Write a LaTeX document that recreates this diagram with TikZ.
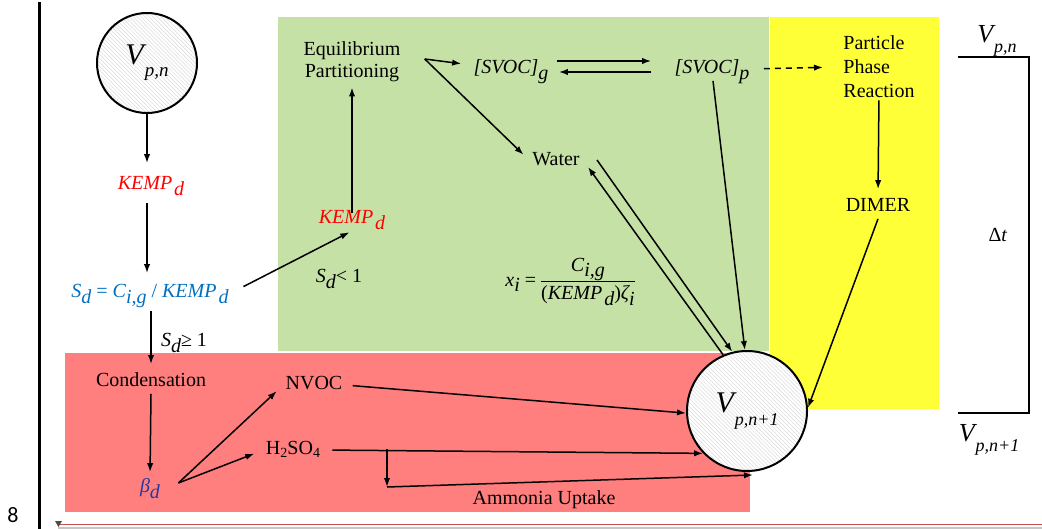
\documentclass[tikz,border=0pt]{standalone}
\usepackage{fontspec}
\setmainfont{Liberation Serif}
\newfontfamily\numfont{Carlito}
\usetikzlibrary{arrows.meta,patterns.meta,calc}
\definecolor{lgreen}{RGB}{198,225,166}
\definecolor{lyellow}{RGB}{255,255,56}
\definecolor{lred}{RGB}{255,127,127}
\definecolor{sdblue}{RGB}{0,112,192}
\definecolor{bdblue}{RGB}{40,55,160}
\definecolor{kred}{RGB}{255,0,0}
\definecolor{pagered}{RGB}{200,80,80}
\newcommand{\lsub}[1]{\raisebox{-0.6ex}{#1}}
\newcommand{\vsub}[2]{\raisebox{-0.9ex}{\fontsize{#1}{#1}\selectfont #2}}
\newcommand{\kemp}{\textit{KEMP\kern1pt\lsub{d}}}
\tikzset{
  txt/.style={inner sep=1pt, text height=7pt, text depth=2.5pt, font=\fontsize{10}{11.5}\selectfont},
  mtxt/.style={inner sep=1pt},
  arr/.style={-{Latex[length=4.5pt,width=3.2pt]}, line width=0.75pt},
  bigc/.style={circle, draw, line width=1pt, inner sep=0pt, preaction={fill=white},
    pattern={Lines[angle=-45,distance=1.4pt,line width=0.25pt]}, pattern color=gray!28},
}
\begin{document}
\begin{tikzpicture}[x=0.5pt,y=-0.5pt]
\useasboundingbox (0,0) rectangle (1042,529);
% coloured panels
\fill[lgreen] (278,17) rectangle (769,351);
\fill[lyellow] (770,17) rectangle (939,409);
\fill[lred] (65,353) rectangle (750,512);
% page marks
\draw[line width=1.5pt] (39,2) -- (39,529);
\node[inner sep=0pt, font=\numfont\fontsize{11}{11}\selectfont] (pg) at (13,515) {8};
\draw[line width=0.4pt, pagered] (58,524.5) -- (1042,524.5);
\draw[line width=1pt, gray!45] (58,527.5) -- (1042,527.5);
\fill[gray!60!black] (55,521) -- (62,521) -- (58.5,527) -- cycle;

% nodes
\node[bigc, minimum size=50pt] (c1) at (147,63)
  {\fontsize{15}{15}\selectfont\textit{V\kern0.5pt\vsub{9.5}{p,n}}};
\node[txt, text=kred] (k1) at (151,185) {\kemp};
\node[txt, text=sdblue] (sd) at (150,293) {\textit{S\lsub{d}} = \textit{C\lsub{i,g}} / \kemp};
\node[txt] (cond) at (151,382) {Condensation};
\node[txt, text=bdblue] (beta) at (150,488) {\textit{β\lsub{d}}};
\node[txt] (sdge) at (184,342) {\textit{S\lsub{d}}≥ 1};
\node[txt, text=kred] (k2) at (352,219) {\kemp};
\node[txt] (sdlt) at (339,278) {\textit{S\lsub{d}}< 1};
\node[mtxt, align=center, font=\fontsize{10}{11}\selectfont] (eq) at (352,62) {Equilibrium\\Partitioning};
\node[txt] (svg) at (511,69) {\textit{[SVOC]\lsub{g}}};
\node[txt] (svp) at (712,69) {\textit{[SVOC]\lsub{p}}};
\node[mtxt, align=left, anchor=west, font=\fontsize{10}{12}\selectfont] (ppr) at (841,67) {Particle\\Phase\\Reaction};
\node[txt] (dimer) at (878,207) {DIMER};
\node[txt] (water) at (556,161) {Water};
\node[mtxt, font=\fontsize{10}{11.5}\selectfont] (xi) at (570,281)
  {\textit{x\lsub{i}} = \begin{tabular}{@{}c@{}}\textit{C\lsub{i,g}}\\[1pt]\hline\rule{0pt}{9pt}(\textit{KEMP\kern1pt\lsub{d}})\textit{ζ\lsub{i}}\end{tabular}};
\node[txt] (nvoc) at (314,385) {NVOC};
\node[txt] (h2) at (293,450) {H\raisebox{-0.3ex}{\fontsize{7}{7}\selectfont 2}SO\raisebox{-0.3ex}{\fontsize{7}{7}\selectfont 4}};
\node[txt] (amm) at (544,500) {Ammonia Uptake};
\node[bigc, minimum size=60pt] (c2) at (747,411)
  {\fontsize{15}{15}\selectfont\textit{V\kern0.5pt\vsub{9}{p,n+1}}};
% right bracket labels
\node[mtxt, font=\fontsize{13}{13}\selectfont] (vtop) at (997,41) {\textit{V\kern0.5pt\vsub{9}{p,n}}};
\node[mtxt, font=\fontsize{13}{13}\selectfont] (vbot) at (989,440) {\textit{V\kern0.5pt\vsub{9}{p,n+1}}};
\node[txt] (dt) at (998,237) {Δ\textit{t}};
\coordinate (bt1) at (958,57);
\coordinate (bt2) at (1029,57);
\coordinate (bb2) at (1029,413);
\coordinate (bb1) at (958,413);
\draw[line width=1pt] (bt1) -- (bt2) -- (bb2) -- (bb1);

% connectors
\draw[arr, shorten >=5pt] (c1.south) -- (c1.south |- k1.north);
\draw[arr, shorten <=3pt, shorten >=4pt] (c1.south |- k1.south) -- (c1.south |- sd.north);
\draw[arr, shorten <=3pt, shorten >=3pt] (cond.north |- sd.south) -- (cond.north);
\draw[arr, shorten >=2pt] (cond.south) -- (beta.north);
\coordinate (bo) at ($(beta.east)+(16,-5)$);
\draw[arr, shorten >=4.5pt] (bo) -- (nvoc.west);
\draw[arr, shorten >=5pt] (bo) -- (h2.west);
\draw[arr, shorten <=4pt] (nvoc.east) -- (c2.182);
\draw[arr, shorten <=5pt] (h2.east) -- (c2.224);
\coordinate (aj) at (387,449);
\coordinate (ac) at (387,487);
\draw[arr] (aj) -- (ac);
\draw[arr] (ac) -- ([xshift=3pt,yshift=-1.5pt]c2.south);
\draw[arr, shorten <=7pt, shorten >=1.5pt] (sd.east) -- (k2.south);
\draw[arr, shorten <=-3pt, shorten >=1.5pt] (k2.north) -- (eq.south);
\coordinate (eqo) at ($(eq.east)+(22,-3)$);
\draw[arr, shorten >=5pt] (eqo) -- ([yshift=2pt]svg.west);
\draw[arr, shorten >=4.5pt] (eqo) -- (water.west);
\draw[arr, shorten <=3pt, shorten >=10.5pt] ([yshift=4pt]svg.east) -- ([yshift=4pt]svp.west);
\draw[arr, shorten <=10.5pt, shorten >=4pt] ([yshift=-1.5pt]svp.west) -- ([yshift=-1.5pt]svg.east);
\draw[arr, dash pattern=on 3pt off 2.5pt, shorten <=6pt, shorten >=9pt] (svp.east) -- (ppr.west);
\draw[arr] ([xshift=0.5pt]svp.south) -- (c2.92);
\draw[arr] (c2.113) -- ([xshift=3pt,yshift=-3pt]water.east);
\draw[arr] ([xshift=7.5pt,yshift=0.5pt]water.east) -- (c2.104);
\draw[arr, shorten >=3pt] (ppr.south) -- (dimer.north);
\draw[arr] (dimer.south) -- (c2.3);
\end{tikzpicture}
\end{document}
